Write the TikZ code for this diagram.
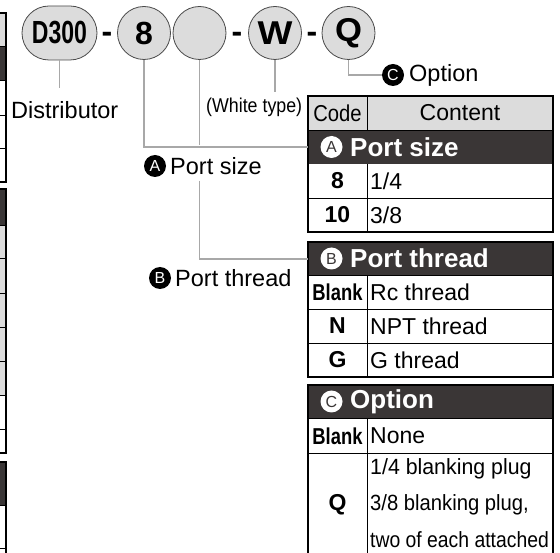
\documentclass[tikz,border=0pt]{standalone}
\usepackage{fontspec}
\setmainfont{Liberation Sans}
\usepackage{graphicx}
\definecolor{lightfill}{HTML}{DCDCDC}
\definecolor{darkrow}{HTML}{3A3636}
\definecolor{connline}{HTML}{A8A8A8}
\definecolor{ringline}{HTML}{4A4A4A}
\newcommand\szBig{\fontsize{32}{34}\selectfont}
\newcommand\szLab{\fontsize{23.5}{26}\selectfont}
\newcommand\szTxt{\fontsize{23}{25}\selectfont}
\newcommand\szTitle{\fontsize{26}{28}\selectfont}
\newcommand\szSmall{\fontsize{20}{22}\selectfont}
\tikzset{
  ring/.style={draw=ringline, fill=lightfill, line width=0.8pt, circle, minimum size=53pt, inner sep=0pt, font=\szBig\bfseries},
  capsule/.style={draw=ringline, fill=lightfill, line width=0.8pt, rectangle, rounded corners=27pt, minimum width=75pt, minimum height=54pt, inner sep=0pt, font=\szBig\bfseries},
  dashsym/.style={font=\szBig\bfseries, inner sep=0pt, anchor=base},
  conn/.style={draw=connline, line width=1.8pt},
  blackdot/.style={circle, fill=black, text=white, minimum size=22pt, inner sep=0pt, font=\fontsize{16}{16}\selectfont},
  whitedot/.style={circle, fill=white, text=darkrow, minimum size=22pt, inner sep=0pt, font=\fontsize{16}{16}\selectfont},
  lab/.style={font=\szLab, inner sep=0pt, anchor=west},
  cell/.style={inner sep=0pt},
  codecell/.style={font=\szTxt\bfseries, inner sep=0pt},
  txtcell/.style={font=\szTxt, inner sep=0pt, anchor=west},
  txtsmall/.style={font=\fontsize{22}{24}\selectfont, inner sep=0pt, anchor=west},
  titletxt/.style={font=\szTitle\bfseries, text=white, inner sep=0pt, anchor=west},
  border/.style={draw=black, line width=2pt},
  sep/.style={draw=black, line width=0.9pt},
}
\begin{document}
\begin{tikzpicture}[x=1pt,y=-1pt]
\useasboundingbox (0,0) rectangle (560,553);
\fill[white] (0,0) rectangle (560,553);

% ---------- left-edge fragment of other tables ----------
\fill[lightfill] (-5,12.7) rectangle (6,46);
\fill[darkrow] (-5,46) rectangle (6,80);
\foreach \y in {46,80,115,148} \draw[sep] (-5,\y) -- (6,\y);
\draw[border] (-5,12.7) -- (6,12.7) -- (6,182) -- (-5,182);

\fill[darkrow] (-5,189) rectangle (6,225);
\fill[lightfill] (-5,225) rectangle (6,395);
\foreach \y in {225,258,293,327,361,395,429} \draw[sep] (-5,\y) -- (6,\y);
\draw[border] (-5,189) -- (6,189) -- (6,453) -- (-5,453);

\fill[darkrow] (-5,462) rectangle (6,505);
\foreach \y in {505,548} \draw[sep] (-5,\y) -- (6,\y);
\draw[border] (-5,462) -- (6,462) -- (6,560);

% ---------- part number ----------
\node[capsule] (cD) at (59.5,33) {\scalebox{0.72}[1]{D300}};
\node[dashsym] (d1) at (107,42.5) {-};
\node[ring] (c8) at (144,33) {8};
\node[ring] (cE) at (199.5,33) {};
\node[dashsym] (d2) at (237,42.5) {-};
\node[ring, font=\fontsize{33}{35}\selectfont\bfseries] (cW) at (275,33) {\scalebox{1.12}[1]{W}};
\node[dashsym] (d3) at (312,42.5) {-};
\node[ring, font=\fontsize{33}{35}\selectfont\bfseries] (cQ) at (348.5,33) {\scalebox{1.05}[1]{Q}};

% ---------- labels ----------
\node[lab] (lDist) at (11,110) {Distributor};
\node[font=\szSmall, inner sep=0pt, anchor=west] (lWhite) at (206,107) {\scalebox{0.89}[1]{(White type)}};
\node[blackdot] (dA) at (155,166) {A};
\node[lab] (lA) at (170,166) {Port size};
\node[blackdot] (dB) at (160,278) {B};
\node[lab] (lB) at (175,278) {Port thread};
\node[blackdot] (dC) at (393,75) {C};
\node[lab] (lC) at (409,75) {Option};

% ---------- table A ----------
\fill[lightfill] (308,96) rectangle (553,130);
\node[cell, fill=darkrow, minimum width=245pt, minimum height=34pt, anchor=north west] (tA) at (308,130) {};
\draw[sep] (308,130) -- (553,130);
\draw[sep] (367,96) -- (367,130);
\draw[sep] (308,198) -- (553,198);
\draw[sep] (367,164) -- (367,232);
\draw[border] (308,96) rectangle (553,232);
\node[font=\szTxt, inner sep=0pt] (hCode) at (337.5,113) {\scalebox{0.88}[1]{Code}};
\node[font=\szTxt, inner sep=0pt] (hCont) at (460,113) {Content};
\node[whitedot] (wA) at (331.5,147) {A};
\node[titletxt] (ttA) at (350,147) {Port size};
\node[codecell] (k8) at (337.5,181) {8};
\node[txtcell] (v8) at (370,181) {1/4};
\node[codecell] (k10) at (337.5,215) {10};
\node[txtcell] (v10) at (370,215) {3/8};

% ---------- table B ----------
\node[cell, fill=darkrow, minimum width=245pt, minimum height=33pt, anchor=north west] (tB) at (308,242) {};
\draw[sep] (308,275) -- (553,275);
\draw[sep] (308,309) -- (553,309);
\draw[sep] (308,343) -- (553,343);
\draw[sep] (367,275) -- (367,377);
\draw[border] (308,242) rectangle (553,377);
\node[whitedot] (wB) at (331.5,258.5) {B};
\node[titletxt] (ttB) at (350,258.5) {Port thread};
\node[codecell] (kBl) at (337.5,292) {\scalebox{0.8}[1]{Blank}};
\node[txtcell] (vBl) at (370,292) {Rc thread};
\node[codecell] (kN) at (337.5,326) {N};
\node[txtcell] (vN) at (370,326) {NPT thread};
\node[codecell] (kG) at (337.5,360) {G};
\node[txtcell] (vG) at (370,360) {G thread};

% ---------- table C ----------
\node[cell, fill=darkrow, minimum width=245pt, minimum height=33pt, anchor=north west] (tC) at (308,385) {};
\draw[sep] (308,418) -- (553,418);
\draw[sep] (308,453) -- (553,453);
\draw[sep] (367,418) -- (367,560);
\draw[border] (308,560) -- (308,385) -- (553,385) -- (553,560);
\node[whitedot] (wC) at (331.5,401.5) {C};
\node[titletxt] (ttC) at (350,401.5) {Option};
\node[codecell] (kBl2) at (337.5,436) {\scalebox{0.8}[1]{Blank}};
\node[txtcell] (vNone) at (370,436) {None};
\node[codecell] (kQ) at (337.5,505) {Q};
\node[txtsmall] (vQ1) at (370,469) {\scalebox{0.97}[1]{1/4 blanking plug}};
\node[txtsmall] (vQ2) at (370,505) {\scalebox{0.92}[1]{3/8 blanking plug,}};
\node[txtsmall] (vQ3) at (370,540) {\scalebox{0.88}[1]{two of each attached}};

% ---------- connectors ----------
\draw[conn] (cD.south) -- (cD.south |- 0,88);
\draw[conn] (c8.south) |- (tA.west);
\draw[conn] (cE.south) -- (cE.south |- 0,145);
\draw[conn] (cE.south |- 0,181) |- (tB.west);
\draw[conn] (cW.south) -- (cW.south |- 0,92);
\draw[conn] (cQ.south) |- (dC.west);
\end{tikzpicture}
\end{document}
